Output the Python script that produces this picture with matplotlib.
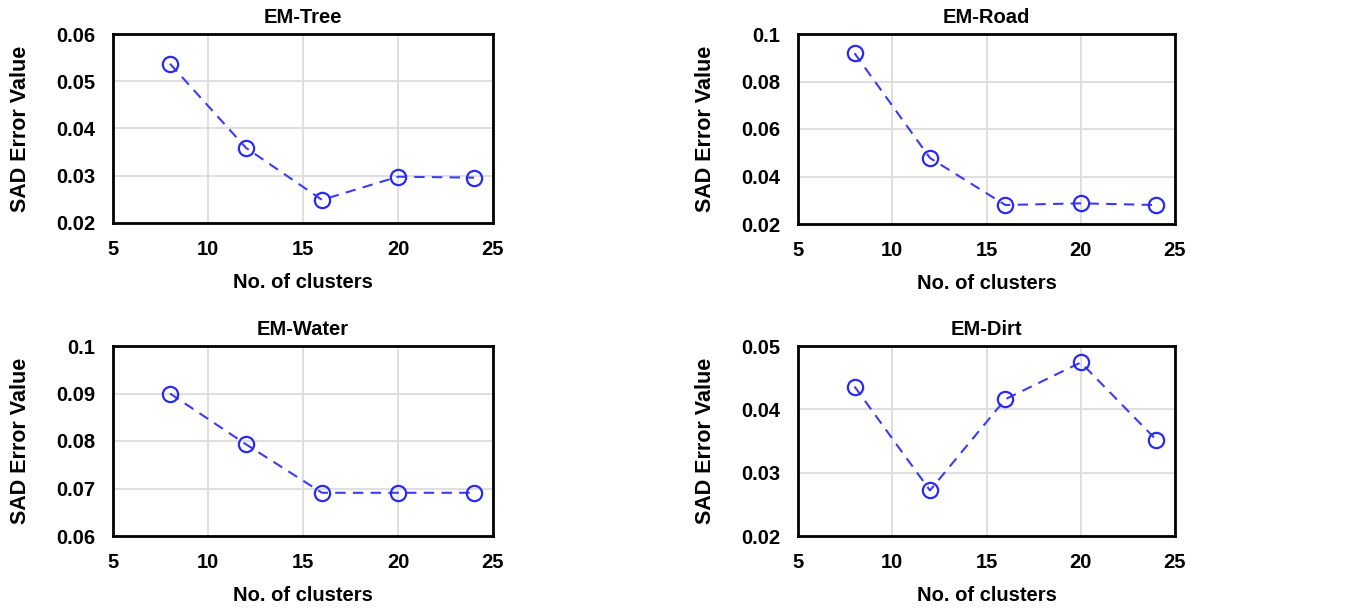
import matplotlib
matplotlib.use("Agg")
import matplotlib.pyplot as plt

plt.rcParams['font.family'] = ['Liberation Sans', 'DejaVu Sans']
plt.rcParams['font.weight'] = 'bold'

clusters = [8, 12, 16, 20, 24]
tree = [0.0537, 0.0359, 0.0249, 0.0298, 0.0296]
road = [0.0919, 0.0478, 0.0280, 0.0287, 0.0280]
water = [0.0900, 0.0793, 0.0691, 0.0691, 0.0691]
dirt = [0.0436, 0.0272, 0.0416, 0.0474, 0.0352]

titles = ["EM-Tree", "EM-Road", "EM-Water", "EM-Dirt"]
series = [tree, road, water, dirt]
ylims = [(0.02, 0.06), (0.02, 0.1), (0.06, 0.1), (0.02, 0.05)]
yticks = [[0.02, 0.03, 0.04, 0.05, 0.06],
          [0.02, 0.04, 0.06, 0.08, 0.1],
          [0.06, 0.07, 0.08, 0.09, 0.1],
          [0.02, 0.03, 0.04, 0.05]]
ytick_labels = [["0.02", "0.03", "0.04", "0.05", "0.06"],
                ["0.02", "0.04", "0.06", "0.08", "0.1"],
                ["0.06", "0.07", "0.08", "0.09", "0.1"],
                ["0.02", "0.03", "0.04", "0.05"]]
xticks = [5, 10, 15, 20, 25]

W, H = 1347, 612
fig = plt.figure(figsize=(W / 100, H / 100), dpi=100)

boxes = [(113, 34, 493, 223), (798, 34, 1175, 224),
         (113, 346, 493, 536), (798, 346, 1175, 536)]

for i in range(4):
    l, t, r, b = boxes[i]
    ax = fig.add_axes([l / W, 1 - b / H, (r - l) / W, (b - t) / H])
    ax.plot(clusters, series[i], linestyle=(0, (5, 3.5)), color='#3b3bf5', lw=1.5,
            marker='o', markersize=11, markerfacecolor='none',
            markeredgecolor='#2a2af5', markeredgewidth=1.6, zorder=3)
    ax.set_xlim(5, 25)
    ax.set_ylim(*ylims[i])
    ax.set_xticks(xticks)
    ax.set_xticklabels([str(x) for x in xticks])
    ax.set_yticks(yticks[i])
    ax.set_yticklabels(ytick_labels[i])
    ax.grid(True, color='#dcdcdc', lw=1.3)
    ax.set_axisbelow(True)
    for s in ax.spines.values():
        s.set_linewidth(2)
        s.set_color('black')
    ax.tick_params(length=0, labelsize=14.5)
    ax.tick_params(axis='x', pad=12)
    ax.tick_params(axis='y', pad=13)
    for lab in ax.get_xticklabels() + ax.get_yticklabels():
        lab.set_fontweight('bold')
    ax.set_title(titles[i], fontsize=14.5, fontweight='bold', pad=8)
    ax.set_xlabel("No. of clusters", fontsize=14.5, fontweight='bold', labelpad=10)
    ax.set_ylabel("SAD Error Value", fontsize=15.5, fontweight='bold', labelpad=18)

fig.savefig("out.png", dpi=100)
